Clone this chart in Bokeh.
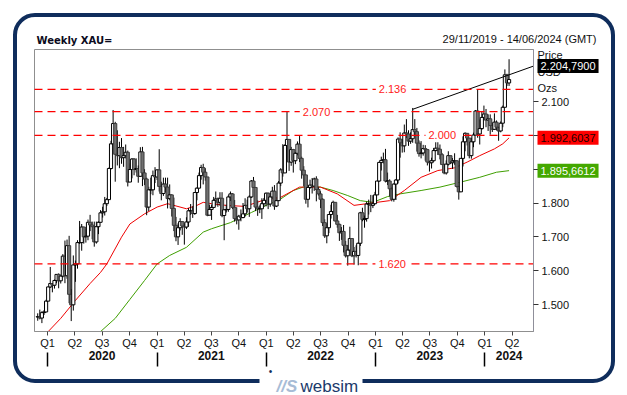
import pandas as pd
from bokeh.plotting import figure
from bokeh.models import (LinearAxis, FixedTicker, Range1d, Label,
                          BoxAnnotation, ColumnDataSource)
from bokeh.embed import file_html
from bokeh.resources import INLINE

# ---------------- data (weekly XAU, week index 0 = 29/11/2019) ----------------
start_date = "2019-11-29"
first_open = 1463

close = [
    1464, 1460, 1476, 1478, 1510,
    1552, 1562, 1557, 1571, 1589, 1570, 1584, 1643, 1585, 1674, 1530, 1499, 1617,
    1620, 1683, 1683, 1729, 1700, 1702, 1743, 1735, 1730, 1685, 1730, 1743, 1771,
    1774, 1798, 1810, 1902, 1975, 2035, 1944, 1940, 1964, 1934, 1940, 1950, 1862,
    1899, 1930, 1899, 1902, 1879, 1951, 1889, 1871, 1788, 1839, 1839, 1881, 1877,
    1898, 1849, 1828, 1856, 1847, 1813, 1824, 1784, 1734, 1700, 1727, 1745, 1732,
    1729, 1744, 1777, 1777, 1769, 1831, 1844, 1881, 1905, 1891, 1877, 1764, 1781,
    1787, 1808, 1812, 1802, 1814, 1763, 1780, 1781, 1818, 1827, 1787, 1754, 1750,
    1761, 1757, 1768, 1793, 1783, 1818, 1865, 1846, 1788, 1783, 1783, 1798, 1808,
    1829, 1797, 1818, 1835, 1791, 1807, 1859, 1898, 1889, 1970, 1988, 1921, 1958,
    1925, 1947, 1974, 1932, 1897, 1883, 1811, 1846, 1853, 1850, 1871, 1840, 1827,
    1811, 1742, 1703, 1727, 1766, 1775, 1802, 1747, 1737, 1712, 1716, 1675, 1644,
    1661, 1695, 1644, 1657, 1645, 1681, 1771, 1751, 1754, 1797, 1797, 1793, 1798,
    1824, 1865, 1920, 1926, 1928, 1865, 1865, 1842, 1811, 1856, 1868, 1989, 1978,
    1969, 2007, 2004, 1983, 1990, 2017, 2011, 1977, 1946, 1948, 1961, 1958, 1921,
    1919, 1925, 1955, 1962, 1959, 1943, 1914, 1889, 1915, 1940, 1919, 1924, 1925,
    1849, 1833, 1932, 1981, 2006, 1992, 1940, 1981, 2001, 2072, 2004, 2020, 2053,
    2063, 2045, 2049, 2029, 2018, 2039, 2024, 2013, 2036, 2083, 2179, 2155, 2165,
]
high = [
    1474, 1485, 1480, 1483, 1514,
    1553, 1611, 1563, 1574, 1590, 1592, 1586, 1649, 1689, 1692, 1703, 1546, 1645,
    1630, 1690, 1747, 1738, 1730, 1722, 1751, 1765, 1745, 1745, 1745, 1746, 1779,
    1789, 1818, 1815, 1905, 1984, 2075, 2040, 2015, 1981, 1992, 1966, 1973, 1955,
    1917, 1933, 1933, 1932, 1911, 1965, 1966, 1900, 1875, 1848, 1875, 1896, 1906,
    1900, 1959, 1863, 1875, 1875, 1875, 1855, 1826, 1816, 1759, 1740, 1755, 1745,
    1740, 1758, 1785, 1797, 1790, 1832, 1846, 1890, 1913, 1916, 1903, 1877, 1795,
    1795, 1818, 1834, 1816, 1832, 1832, 1782, 1795, 1823, 1834, 1829, 1809, 1787,
    1765, 1781, 1800, 1814, 1810, 1823, 1868, 1877, 1810, 1808, 1793, 1814, 1815,
    1831, 1831, 1830, 1848, 1853, 1810, 1865, 1903, 1974, 1974, 2070, 1966, 1966,
    1960, 1950, 1982, 1998, 1937, 1909, 1884, 1849, 1869, 1874, 1875, 1879, 1847,
    1835, 1814, 1752, 1739, 1767, 1795, 1807, 1802, 1765, 1739, 1729, 1735, 1688,
    1676, 1730, 1688, 1670, 1675, 1684, 1774, 1786, 1763, 1804, 1810, 1824, 1823,
    1833, 1865, 1922, 1937, 1949, 1960, 1890, 1870, 1846, 1858, 1871, 1994, 2009,
    1989, 2032, 2048, 2015, 2009, 2081, 2048, 2022, 1985, 1983, 1972, 1971, 1959,
    1925, 1934, 1963, 1987, 1982, 1973, 1948, 1916, 1926, 1953, 1938, 1933, 1947,
    1926, 1835, 1933, 1997, 2009, 2003, 1992, 1993, 2008, 2075, 2135, 2047, 2071,
    2088, 2078, 2062, 2062, 2037, 2065, 2044, 2016, 2041, 2088, 2195, 2182, 2225,
]
low = [
    1452, 1456, 1445, 1469, 1477,
    1510, 1549, 1536, 1547, 1563, 1548, 1562, 1580, 1563, 1576, 1504, 1451, 1482,
    1567, 1606, 1679, 1659, 1680, 1683, 1690, 1717, 1693, 1671, 1680, 1708, 1745,
    1757, 1763, 1791, 1810, 1899, 1976, 1863, 1911, 1903, 1916, 1907, 1932, 1849,
    1871, 1873, 1882, 1890, 1860, 1877, 1850, 1853, 1764, 1776, 1826, 1823, 1859,
    1868, 1834, 1808, 1821, 1831, 1784, 1808, 1760, 1717, 1687, 1676, 1719, 1706,
    1677, 1723, 1730, 1765, 1756, 1765, 1808, 1843, 1869, 1855, 1866, 1761, 1767,
    1750, 1786, 1792, 1789, 1792, 1758, 1690, 1772, 1774, 1806, 1782, 1745, 1737,
    1721, 1746, 1755, 1760, 1772, 1759, 1815, 1845, 1776, 1762, 1770, 1753, 1789,
    1790, 1782, 1789, 1812, 1780, 1788, 1806, 1850, 1878, 1890, 1959, 1895, 1910,
    1890, 1915, 1941, 1921, 1872, 1850, 1798, 1787, 1842, 1828, 1836, 1805, 1822,
    1785, 1732, 1697, 1681, 1711, 1754, 1773, 1745, 1727, 1688, 1691, 1654, 1639,
    1615, 1659, 1640, 1618, 1639, 1616, 1673, 1746, 1727, 1745, 1766, 1773, 1785,
    1796, 1824, 1863, 1896, 1917, 1861, 1853, 1819, 1805, 1804, 1809, 1858, 1934,
    1949, 1950, 1992, 1969, 1975, 1978, 1999, 1952, 1937, 1932, 1940, 1925, 1911,
    1893, 1902, 1922, 1953, 1942, 1929, 1912, 1885, 1884, 1911, 1915, 1901, 1913,
    1846, 1810, 1834, 1908, 1953, 1970, 1932, 1931, 1965, 2001, 1993, 1973, 2016,
    2046, 2024, 2013, 2002, 2010, 2016, 2015, 1984, 2009, 2024, 2083, 2146, 2146,
]

# moving averages (week index, value)
ma_red_x = [5, 11, 18, 25, 30, 33, 40, 44, 51, 57, 62, 65, 71, 76, 79, 83, 90, 99,
            107, 116, 125, 135, 143, 151, 157, 168, 175, 183, 191, 199, 205, 211,
            218, 222, 225]
ma_red_y = [1420, 1459, 1512, 1562, 1595, 1620, 1699, 1738, 1768, 1788, 1798, 1793,
            1783, 1793, 1802, 1798, 1793, 1790, 1807, 1817, 1847, 1847, 1827, 1793,
            1798, 1807, 1837, 1876, 1896, 1904, 1921, 1940, 1960, 1975, 1992.6]
ma_green_x = [30, 37, 44, 51, 57, 63, 71, 79, 83, 92, 102, 109, 116, 122, 129, 135,
              141, 148, 154, 160, 167, 173, 183, 192, 202, 211, 219, 225]
ma_green_y = [1420, 1459, 1515, 1571, 1620, 1645, 1669, 1714, 1724, 1742, 1772, 1793,
              1812, 1837, 1852, 1847, 1837, 1822, 1807, 1802, 1819, 1827, 1837, 1847,
              1862, 1876, 1891, 1895.7]

levels = [2136, 2070, 2000, 1620]
level_texts = ["2.136", "2.070", "2.000", "1.620"]

trend_x = [179, 236.66]
trend_y = [2077, 2204.79]

tag_values = [2204.79, 1992.6037, 1895.6612]
tag_texts = ["2.204,7900", "1.992,6037", "1.895,6612"]

price_ticks = [1500, 1600, 1700, 1800, 1900, 2000, 2100]
price_tick_labels = ["1.500", "1.600", "1.700", "1.800", "1.900", "2.000", "2.100"]

quarter_starts = pd.date_range("2020-01-01", "2024-04-01", freq="QS")
years = ["2020", "2021", "2022", "2023", "2024"]

title_text = "Weekly XAU="
range_text = "29/11/2019 - 14/06/2024 (GMT)"
unit_texts = ["Price", "USD", "Ozs"]

# ---------------- derived ----------------
n = min(len(close), len(high), len(low))
close, high, low = close[:n], high[:n], low[:n]
opn = [first_open] + close[:-1]
high = [max(h, o, c) for h, o, c in zip(high, opn, close)]
low = [min(l, o, c) for l, o, c in zip(low, opn, close)]
idx = list(range(n))
up = [c >= o for o, c in zip(opn, close)]

t0 = pd.Timestamp(start_date)
def widx(d):
    return round((pd.Timestamp(d) - t0).days / 7.0, 3)

# chart area inside the canvas (px) and its data extent
CW, CH = 627, 395
AL, AR, AT, AB = 34, 533, 49, 331
X0, X1 = -1.53, 236.66
Y0, Y1 = 1420.2, 2253.8
ux = (X1 - X0) / (AR - AL)
uy = (Y1 - Y0) / (AB - AT)
def y_at(py):
    return Y0 - (py - AB) * uy

q_ticks = [widx(d) for d in quarter_starts]
q_labels = {t: f"Q{d.quarter}" for t, d in zip(q_ticks, quarter_starts)}
year_bounds = [widx(f"{y}-01-01") for y in years]
year_mid = [widx(f"{y}-07-01") for y in years[:-1]]
year_mid.append(round((year_bounds[-1] + X1) / 2, 3))
year_labels = {t: y for t, y in zip(year_mid, years)}

# ---------------- figure ----------------
p = figure(width=CW, height=CH, output_backend="svg", toolbar_location=None,
           x_range=Range1d(X0 - AL * ux, X1 + (CW - AR) * ux),
           y_range=Range1d(Y0 - (CH - AB) * uy, Y1 + AT * uy),
           x_axis_location=None, y_axis_location=None,
           min_border=0)
p.outline_line_color = None
p.grid.visible = False
p.background_fill_color = "white"
p.border_fill_color = "white"

FONT = "Liberation Sans"

# chart area outline
p.add_layout(BoxAnnotation(left=X0, right=X1, bottom=Y0, top=Y1, fill_alpha=0,
                           line_color="#8f8f8f", line_alpha=1, line_width=1,
                           level="underlay"))

# quarter axis
qax = LinearAxis(ticker=FixedTicker(ticks=q_ticks, minor_ticks=[]),
                 major_label_overrides=q_labels, fixed_location=Y0, bounds=(X0, X1))
qax.axis_line_color = "#8f8f8f"
qax.major_tick_line_color = "#444444"
qax.major_tick_out = 4
qax.major_tick_in = 0
qax.minor_tick_out = 0
qax.minor_tick_in = 0
qax.major_label_standoff = 1
qax.major_label_text_font = FONT
qax.major_label_text_font_size = "11px"
qax.major_label_text_color = "#111111"
p.add_layout(qax, "below")

# year separators
sax = LinearAxis(ticker=FixedTicker(ticks=year_bounds, minor_ticks=[]),
                 major_label_overrides={t: "" for t in year_bounds},
                 fixed_location=y_at(352), bounds=(X0, X1))
sax.axis_line_color = None
sax.major_tick_line_color = "black"
sax.major_tick_line_width = 1.5
sax.major_tick_out = 14
sax.major_tick_in = 0
sax.minor_tick_out = 0
sax.minor_tick_in = 0
p.add_layout(sax, "below")

# year labels
yax = LinearAxis(ticker=FixedTicker(ticks=year_mid, minor_ticks=[]),
                 major_label_overrides=year_labels, fixed_location=y_at(349),
                 bounds=(X0, X1))
yax.axis_line_color = None
yax.major_tick_line_color = None
yax.major_tick_out = 0
yax.major_tick_in = 0
yax.minor_tick_out = 0
yax.minor_tick_in = 0
yax.major_label_standoff = 1
yax.major_label_text_font = FONT
yax.major_label_text_font_size = "12px"
yax.major_label_text_font_style = "bold"
yax.major_label_text_color = "#111111"
p.add_layout(yax, "below")

# price axis
rax = LinearAxis(ticker=FixedTicker(ticks=price_ticks, minor_ticks=[]),
                 major_label_overrides=dict(zip(price_ticks, price_tick_labels)),
                 fixed_location=X1, bounds=(Y0, Y1))
rax.axis_line_color = "#8f8f9a"
rax.major_tick_line_color = "#333333"
rax.major_tick_out = 5
rax.major_tick_in = 0
rax.minor_tick_out = 0
rax.minor_tick_in = 0
rax.major_label_standoff = 3
rax.major_label_text_font = FONT
rax.major_label_text_font_size = "11px"
rax.major_label_text_color = "#111111"
p.add_layout(rax, "right")

# moving averages
p.line(ma_green_x, ma_green_y, line_color="#3f9e00", line_width=1)
p.line(ma_red_x, ma_red_y, line_color="#ee0000", line_width=1)

# candles
src = ColumnDataSource(dict(
    x=idx, o=opn, h=high, l=low, c=close,
    top=[max(o, c) for o, c in zip(opn, close)],
    bot=[min(o, c) for o, c in zip(opn, close)],
    fill=["white" if u else "#707070" for u in up],
    edge=["black" if u else "#3c3c3c" for u in up],
))
p.segment(x0="x", y0="h", x1="x", y1="l", source=src, line_color="black", line_width=1)
p.vbar(x="x", width=1.5, top="top", bottom="bot", source=src,
       fill_color="fill", line_color="edge", line_width=1)

# trend line
p.line(trend_x, trend_y, line_color="black", line_width=1)

# level lines
label_x = [169.4, 133.1, 193.1, 169.2]
for v, t, lx in zip(levels, level_texts, label_x):
    p.line([X0, X1], [v, v], line_color="#ff0000", line_dash="8 5", line_width=1.2)
    p.add_layout(Label(x=lx, y=v, text=t, text_align="center", text_baseline="middle",
                       text_font=FONT, text_font_size="11px", text_color="#ff1a1a",
                       background_fill_color="white", padding=3))

def clabel(x, y, text, **kw):
    opts = dict(text_font=FONT, text_font_size="11px", text_color="#111111",
                text_baseline="middle", x_units="canvas", y_units="canvas")
    opts.update(kw)
    p.add_layout(Label(x=x, y=y, text=text, **opts))

# header texts
clabel(36, 40, title_text, text_font="DejaVu Sans", text_font_size="10px",
       text_font_style="bold", text_color="#0b0b20")
clabel(596, 38, range_text, text_align="right")
for ty, t in zip([54, 71, 87], unit_texts):
    clabel(537, ty, t)

# value tags
tag_fill = ["black", "#ff0000", "#44a800"]
tag_color = ["white", "#220000", "white"]
for v, t, f, c in zip(tag_values, tag_texts, tag_fill, tag_color):
    p.add_layout(Label(x=537, y=v, x_units="canvas", y_units="data", text=t,
                       text_align="left", text_baseline="middle", text_font=FONT,
                       text_font_size="11px", text_color=c,
                       background_fill_color=f, padding=3))

# outer rounded frame and logo
NAVY = "#0f2d5c"
p.add_layout(BoxAnnotation(left=14.5, right=612.5, top=14.5, bottom=380.5,
                           left_units="canvas", right_units="canvas",
                           top_units="canvas", bottom_units="canvas",
                           fill_alpha=0, line_color=NAVY, line_alpha=1, line_width=4,
                           border_radius=20))
p.add_layout(BoxAnnotation(left=259, right=362, top=374, bottom=388,
                           left_units="canvas", right_units="canvas",
                           top_units="canvas", bottom_units="canvas",
                           fill_color="white", fill_alpha=1, line_alpha=0))
clabel(270, 371, "\u2022", text_font_size="10px", text_color=NAVY, text_align="center")
clabel(276, 386, "//S", text_font_size="17px", text_font_style="bold italic",
       text_color="#a7bcd6", text_baseline="alphabetic")
clabel(300, 386, "websim", text_font_size="17px", text_color="#1b3a6b",
       text_baseline="alphabetic")

open("out.html", "w").write(file_html(p, INLINE))
